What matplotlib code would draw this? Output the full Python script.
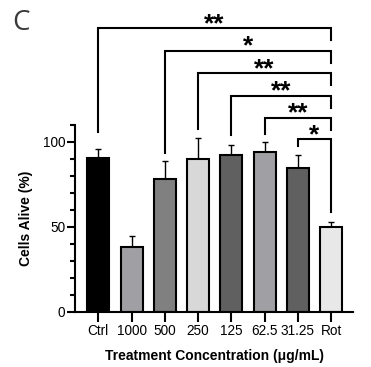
import matplotlib
matplotlib.use("Agg")
import matplotlib.pyplot as plt

plt.rcParams["font.family"] = ["Liberation Sans", "DejaVu Sans"]

# --- data -------------------------------------------------------------------
groups = ["Ctrl", "1000", "500", "250", "125", "62.5", "31.25", "Rot"]
means = [90.5, 38.0, 78.2, 89.9, 92.1, 93.6, 84.5, 49.6]
sd_upper = [4.9, 6.4, 10.3, 11.9, 5.9, 6.3, 7.6, 3.1]
bar_colors = ["#000000", "#a0a0a4", "#808080", "#d8d8d8",
              "#606060", "#a0a0a4", "#606060", "#e8e8e8"]

# significance brackets vs Rot: (left group, bar top, left-leg end, right-leg end, label)
brackets = [
    (0, 166.6, 105.8, 159.7, "**"),
    (2, 153.2, 93.4, 146.2, "*"),
    (3, 140.1, 107.4, 133.2, "**"),
    (4, 126.9, 103.8, 119.5, "**"),
    (5, 114.0, 104.4, 106.8, "**"),
    (6, 101.3, 97.5, 58.4, "*"),
]
ref_idx = 7

# --- figure -----------------------------------------------------------------
fig = plt.figure(figsize=(3.71, 3.67), dpi=100)
ax = fig.add_axes([0.2022, 0.1512, 0.7493, 0.5095])

x = list(range(len(groups)))
ax.bar(x, means, width=0.66, color=bar_colors, edgecolor="black",
       linewidth=1.5, zorder=2)
ax.errorbar(x, means, yerr=[[0] * len(means), sd_upper], fmt="none",
            ecolor="black", elinewidth=1.0, capsize=2.5, capthick=1.0, zorder=1)

for left, top, lend, rend, lab in brackets:
    ax.plot([left, left, ref_idx, ref_idx], [lend, top, top, rend],
            color="black", lw=1.5, clip_on=False, solid_joinstyle="miter")
    ax.text((left + ref_idx) / 2, top - 1.5, lab, ha="center", va="baseline",
            fontsize=19, fontweight="bold", clip_on=False)

ax.set_xlim(-0.70, 7.66)
ax.set_ylim(0, 110)
ax.set_yticks([0, 50, 100])
ax.set_yticks(range(0, 111, 10), minor=True)
ax.set_xticks(x)
ax.set_xticklabels(groups)

for s in ("top", "right"):
    ax.spines[s].set_visible(False)
for s in ("left", "bottom"):
    ax.spines[s].set_linewidth(1.5)

ax.tick_params(axis="y", which="major", length=6, width=1.5, labelsize=9.8, pad=1)
ax.tick_params(axis="y", which="minor", length=3.5, width=1.5)
ax.tick_params(axis="x", which="major", length=7, width=1.5, labelsize=9.8, pad=2)

ax.set_ylabel("Cells Alive (%)", fontsize=10, fontweight="bold", labelpad=7)
ax.set_xlabel("Treatment Concentration (\u03bcg/mL)", fontsize=10,
              fontweight="bold", labelpad=8)

fig.text(12 / 371, 1 - 30 / 367, "C", fontsize=20, color="#3a3a3a",
         family=["Open Sans", "DejaVu Sans"], va="baseline", ha="left")

fig.savefig("out.png", dpi=100)
